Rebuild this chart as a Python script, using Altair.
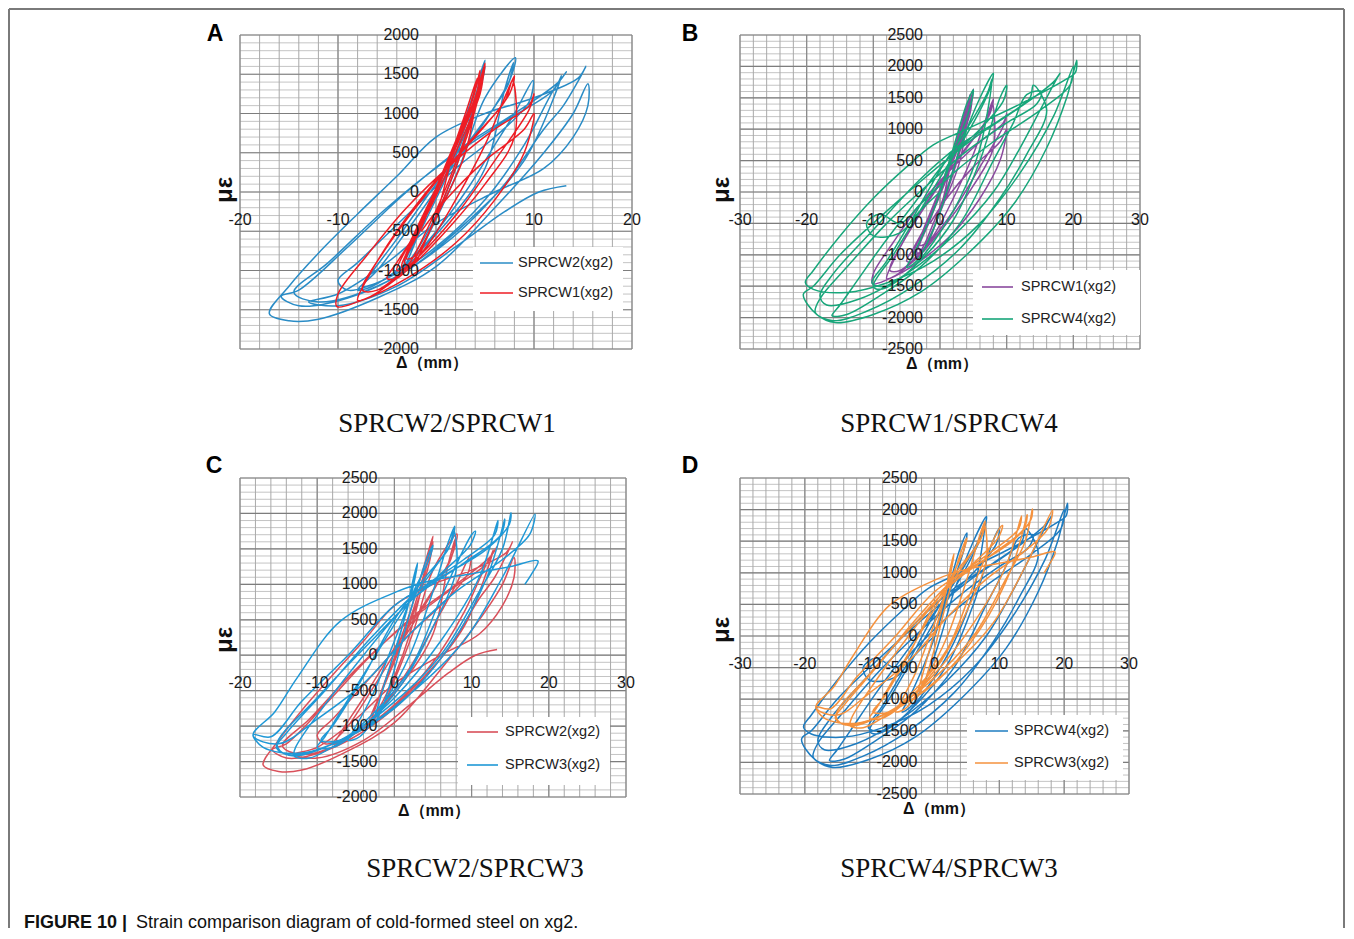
import altair as alt
import pandas as pd

# ---------------- data ----------------
# each series: sequence of (displacement mm, strain) vertices, in loading order
sprcw2 = [
    (0, 0), (2, 600), (4.5, 1500), (5.0, 1680), (4.2, 1300), (2, 500), (-1, -300), (-3, -900), (-3.5, -1000),
    (-2, -750), (0, -300), (2, 300),
    (4.6, 1450), (5.0, 1600), (4.4, 1250), (2, 450), (-1, -350), (-3.3, -950), (-2.2, -850), (0, -350), (2.5, 350),
    (5, 1200), (8.1, 1710), (7.6, 1450), (5, 900), (1, 200), (-3, -500), (-6, -1000), (-8, -1250), (-6.5, -1200),
    (-3, -900), (1, -400), (5, 300),
    (7, 1300), (7.9, 1650), (7.3, 1350), (4, 750), (0, 100), (-4, -600), (-7, -1100), (-7.5, -1200), (-5, -1100),
    (-1, -650), (3, 0), (6, 600),
    (8, 1000), (9.9, 1420), (9.5, 1150), (6, 700), (2, 300), (-3, -300), (-8, -900), (-10, -1130), (-9, -1250),
    (-5, -1100), (0, -700), (5, -100), (9, 600),
    (12, 1300), (13.3, 1530), (12.5, 1400), (8, 1000), (3, 600), (-3, 0), (-9, -700), (-14, -1250), (-15.8, -1330),
    (-14, -1450), (-9, -1350), (-3, -1000), (3, -400), (9, 400),
    (12.8, 1480), (12, 1300), (7, 900), (1, 400), (-5, -200), (-11, -900), (-14.5, -1280), (-12, -1400),
    (-6, -1200), (1, -650), (7, 100), (11, 800),
    (13, 1100), (15.3, 1600), (14.5, 1450), (10, 1200), (5, 1000), (0, 700), (-4, 200), (-8, -280), (-12, -780),
    (-15, -1200), (-17, -1550), (-15, -1640), (-12, -1620), (-6, -1350), (0, -950), (6, -200), (11, 500), (14, 1000),
    (15.5, 1380), (15.5, 1100), (14, 700), (11, 300), (6, 0), (0, -400), (-5, -900), (-10, -1300), (-13, -1400),
    (-10, -1450), (-4, -1200), (2, -700), (7, -250), (10.5, 0), (13.3, 80),
]

sprcw1 = [
    (0, 0), (1, 300), (3, 1000), (4.2, 1450), (3.5, 1100), (1, 300), (-1.5, -450), (-3, -850), (-2, -800), (0, -300),
    (2, 600), (4, 1200), (5, 1640), (4.6, 1350), (2.5, 700), (0, 0), (-2, -550), (-3.5, -950), (-3, -1000),
    (-1.5, -700), (0.5, -200), (3, 500),
    (4.5, 1550), (3.8, 1200), (1.5, 500), (-1, -250), (-3.2, -900), (-2.5, -950), (-0.5, -450), (2, 300),
    (4, 1050), (5, 1600), (4.4, 1300), (2, 600),
    (0, 50), (-2.5, -600), (-4, -1000), (-3, -950), (-1, -500), (1.5, 200), (3.5, 900),
    (4.8, 1500), (4.5, 1250), (2, 500), (-1, -300), (-4, -900), (-5, -1100), (-4, -1100), (-1, -700), (2, -100),
    (5, 600),
    (7, 1200), (8, 1480), (7.5, 1250), (4, 700), (0, 150), (-4, -500), (-7, -1100), (-8, -1380), (-7, -1350),
    (-3, -1000), (1, -500), (5, 100), (8, 700),
    (7.8, 1420), (7, 1150), (3.5, 650), (-0.5, 50), (-5, -700), (-7.5, -1250), (-6, -1250), (-2, -850), (2, -300),
    (6, 400),
    (9.5, 1050), (10, 1250), (9.5, 1100), (6, 800), (2, 400), (-3, -200), (-7, -800), (-10, -1300), (-10.1, -1460),
    (-8, -1400), (-3, -1100), (2, -650), (6, -100), (9, 500), (10, 1000), (9, 800), (5, 400), (1, -100), (-1.5, -500),
]

sprcw4 = [
    (0, 0), (2, 700), (4, 1400), (5, 1630), (4.5, 1350), (2, 600), (-1, -300), (-4, -1000), (-5, -1200),
    (-3.5, -1100), (-1, -600), (1, 0), (3, 700),
    (6, 1500), (8, 1890), (7.5, 1650), (5, 1100), (1, 400), (-3, -300), (-7, -1000), (-10, -1500), (-9, -1550),
    (-5, -1300), (-1, -800), (3, -100), (6, 700),
    (7.8, 1800), (7.2, 1600), (4, 1000), (0, 350), (-4, -400), (-8, -1100), (-10.2, -1450), (-8, -1500),
    (-3, -1100), (2, -450), (6, 500),
    (9, 1500), (10, 1700), (9.5, 1450), (6, 1000), (1, 500), (-4, -200), (-9, -900), (-13, -1500), (-15, -1800),
    (-16.2, -1970), (-14, -1950), (-9, -1650), (-3, -1200), (3, -500), (8, 500), (11, 1100),
    (13, 1550), (15.2, 1600), (14.5, 1400), (10, 1100), (4, 650), (-2, 100), (-8, -500), (-14, -1200), (-18, -1700),
    (-18.7, -1920), (-16, -2050), (-11, -1900), (-4, -1500), (3, -900), (9, -100), (13, 600), (16, 1300),
    (14, 1700), (13.5, 1500), (9, 1150), (3, 750), (-3, 200), (-10, -600), (-16, -1300), (-18, -1650),
    (-17, -1800), (-12, -1700), (-5, -1300), (2, -700), (8, 0), (12, 700), (15, 1300),
    (17.5, 1800), (18, 1890), (17, 1750), (12, 1350), (5, 850), (-2, 250), (-9, -400), (-15, -1000), (-19, -1500),
    (-20.5, -1630), (-18.5, -1950), (-15.7, -2080), (-10, -1950), (-3, -1600), (4, -1000), (11, -200), (16, 700),
    (19, 1500),
    (20.5, 2100), (20.3, 1900), (19, 1800), (12, 1400), (4, 1000), (-1, 750), (-5, 400), (-10, -100), (-15, -700),
    (-19, -1250), (-20.2, -1440), (-19, -1550), (-14, -1600), (-8, -1450), (-1, -1100), (6, -500), (12, 300),
    (17, 1200), (20, 2000),
    (19.5, 1700), (15, 1300), (8, 800), (2, 300), (-3, -200), (-6, -500), (-9, -350), (-11, -500), (-10, -700),
    (-6, -650), (-3, -300), (0, 0),
]

sprcw3 = [
    (0, 0), (1.5, 600), (2.5, 1100), (3, 1300), (2.5, 1000), (1, 400), (-1, -300), (-2.5, -850), (-3, -1000),
    (-2, -850), (0, -200), (1.5, 400),
    (4, 1300), (5, 1550), (4.5, 1350), (2.5, 900), (0, 200), (-3, -600), (-5.5, -1100), (-6, -1200), (-4.5, -1150),
    (-1.5, -700), (2, 0), (5, 900),
    (7, 1600), (7.8, 1820), (7.4, 1600), (5, 1200), (1, 600), (-3, -100), (-7, -800), (-9, -1150), (-10, -1300),
    (-8, -1300), (-4, -1000), (1, -400), (5, 400), (8, 1200),
    (7.7, 1750), (7, 1500), (4, 1100), (0, 500), (-4, -300), (-8, -1000), (-9.5, -1200), (-7, -1200), (-3, -850),
    (2, -200), (6, 800),
    (10, 1700), (10.5, 1750), (9.8, 1550), (6, 1150), (1, 650), (-4, 0), (-9, -700), (-12.8, -1300), (-13, -1420),
    (-11, -1450), (-6, -1150), (0, -600), (6, 200), (11, 1100),
    (13.4, 1900), (13, 1700), (9, 1350), (3, 900), (-3, 250), (-9, -500), (-14, -1100), (-15.3, -1300),
    (-13, -1420), (-7, -1200), (0, -750), (7, 100), (12, 1100),
    (14.3, 1920), (13.8, 1700), (9, 1300), (3, 850), (-3, 200), (-10, -600), (-15.2, -1260), (-14, -1400),
    (-8, -1250), (-1, -750), (6, 0), (11, 900), (14, 1500),
    (15.1, 2010), (14.9, 1850), (12, 1500), (6, 1100), (0, 700), (-6, 0), (-12, -650), (-16, -1150),
    (-18.3, -1120), (-17, -1300), (-12, -1380), (-5, -1100), (2, -550), (9, 200), (14, 1100),
    (18.2, 1990), (17.5, 1700), (14, 1350), (8, 900), (2, 300), (-4, -400), (-10, -900), (-15, -1250),
    (-18.3, -1130), (-15.5, -800), (-12.6, -320), (-7, 480), (0.4, 900), (4.7, 1050), (10, 1150), (15, 1250),
    (18.6, 1330), (17.8, 1150), (16.9, 1000),
]

series_data = {"SPRCW1": sprcw1, "SPRCW2": sprcw2, "SPRCW3": sprcw3, "SPRCW4": sprcw4}

xticks_a = [-20, -10, 0, 10, 20]
yticks_a = [-2000, -1500, -1000, -500, 0, 500, 1000, 1500, 2000]
xticks_b = [-30, -20, -10, 0, 10, 20, 30]
yticks_b = [-2500, -2000, -1500, -1000, -500, 0, 500, 1000, 1500, 2000, 2500]
xticks_c = [-20, -10, 0, 10, 20, 30]
yticks_c = [-2000, -1500, -1000, -500, 0, 500, 1000, 1500, 2000, 2500]

subtitles = ["SPRCW2/SPRCW1", "SPRCW1/SPRCW4", "SPRCW2/SPRCW3", "SPRCW4/SPRCW3"]
letters = ["A", "B", "C", "D"]
caption_bold = "FIGURE 10 |"
caption_rest = "Strain comparison diagram of cold-formed steel on xg2."

FONT = "Liberation Sans"
DUMMY = pd.DataFrame({"a": [0]})


def series_df(pairs):
    return pd.DataFrame({"i": list(range(len(pairs))),
                         "x": [p[0] for p in pairs],
                         "y": [p[1] for p in pairs]})


def txt(x, y, text, **kw):
    return alt.Chart(DUMMY).mark_text(**kw).encode(
        x=alt.value(x), y=alt.value(y), text=alt.value(text))


def panel(cfg):
    w, h = cfg["w"], cfg["h"]
    xs = alt.Scale(domain=cfg["xdom"], nice=False, zero=False)
    ys = alt.Scale(domain=cfg["ydom"], nice=False, zero=False)

    def X(f):
        return alt.X(f, scale=xs, axis=None)

    def Y(f):
        return alt.Y(f, scale=ys, axis=None)

    x0, x1 = cfg["xdom"]
    y0, y1 = cfg["ydom"]
    xminor = list(range(x0, x1 + 1, 2))
    yminor = list(range(y0, y1 + 1, 100))
    xmajor = [v for v in xminor if v % 10 == 0]
    ymajor = [v for v in yminor if v % 500 == 0]

    layers = [
        alt.Chart(pd.DataFrame({"v": yminor})).mark_rule(color="#c4c4c4", strokeWidth=1).encode(y=Y("v:Q")),
        alt.Chart(pd.DataFrame({"v": xminor})).mark_rule(color="#a9a9a9", strokeWidth=1).encode(x=X("v:Q")),
        alt.Chart(pd.DataFrame({"v": ymajor})).mark_rule(color="#7d7d7d", strokeWidth=1.2).encode(y=Y("v:Q")),
        alt.Chart(pd.DataFrame({"v": xmajor})).mark_rule(color="#8a8a8a", strokeWidth=1.2).encode(x=X("v:Q")),
    ]
    for name, color in cfg["series"]:
        layers.append(
            alt.Chart(series_df(series_data[name])).mark_line(
                color=color, strokeWidth=1.5, interpolate="catmull-rom", clip=True
            ).encode(x=X("x:Q"), y=Y("y:Q"), order=alt.Order("i:Q"))
        )
    # legend (drawn like the Excel one, inside the plot)
    lg = cfg["legend"]
    layers.append(alt.Chart(DUMMY).mark_rect(fill="white").encode(
        x=alt.value(lg["box"][0]), x2=alt.value(lg["box"][1]),
        y=alt.value(lg["box"][2]), y2=alt.value(lg["box"][3])))
    for k, (name, color) in enumerate(cfg["series_legend"]):
        yy = lg["rows"][k]
        layers.append(alt.Chart(DUMMY).mark_rule(color=color, strokeWidth=1.6).encode(
            x=alt.value(lg["line"][0]), x2=alt.value(lg["line"][1]), y=alt.value(yy)))
        layers.append(txt(lg["text"], yy, name + "(xg2)", align="left", baseline="middle",
                          font=FONT, fontSize=14.5, color="#222222"))
    # tick labels placed where Excel puts them (crossing at the origin)
    xt = cfg["xticks"]
    layers.append(alt.Chart(pd.DataFrame({"v": xt, "z": [0] * len(xt), "t": [str(v) for v in xt]})).mark_text(
        dy=28, font=FONT, fontSize=16, color="#1a1a1a", baseline="middle").encode(
        x=X("v:Q"), y=Y("z:Q"), text="t:N"))
    yt = cfg["yticks"]
    layers.append(alt.Chart(pd.DataFrame({"v": yt, "z": [0] * len(yt), "t": [str(v) for v in yt]})).mark_text(
        dx=-17, align="right", baseline="middle", font=FONT, fontSize=16, color="#1a1a1a").encode(
        x=X("z:Q"), y=Y("v:Q"), text="t:N"))
    # axis titles, panel letter, subtitle
    layers.append(txt(cfg["mu"][0], cfg["mu"][1], "με", angle=270, font=FONT, fontSize=24,
                      fontWeight="bold", align="center", baseline="middle", color="#111111"))
    layers.append(txt(cfg["delta"][0], cfg["delta"][1], "Δ（mm）", font=FONT, fontSize=16,
                      fontWeight="bold", align="center", baseline="middle", color="#111111"))
    layers.append(txt(cfg["letter"][0], cfg["letter"][1], cfg["letter_t"], font=FONT, fontSize=23,
                      fontWeight="bold", align="center", baseline="middle", color="#000000"))
    layers.append(txt(cfg["sub"][0], cfg["sub"][1], cfg["sub_t"], font="Liberation Serif", fontSize=27,
                      align="center", baseline="middle", color="#111111"))
    layers.extend(cfg.get("extra", []))
    return alt.layer(*layers).properties(width=w, height=h)


FRAME = "#7a7a7a"
frame_layers = [
    alt.Chart(DUMMY).mark_rule(color=FRAME, strokeWidth=2).encode(
        x=alt.value(-231), x2=alt.value(1104), y=alt.value(-26)),
    alt.Chart(DUMMY).mark_rule(color=FRAME, strokeWidth=2).encode(
        x=alt.value(-231), y=alt.value(-26), y2=alt.value(893)),
    alt.Chart(DUMMY).mark_rule(color=FRAME, strokeWidth=2).encode(
        x=alt.value(1104), y=alt.value(-26), y2=alt.value(893)),
]
caption_layers = [
    txt(-216, 445, caption_bold, align="left", baseline="middle", font=FONT, fontSize=18,
        fontWeight="bold", color="#111111"),
    txt(-104, 445, caption_rest, align="left", baseline="middle", font=FONT, fontSize=18,
        color="#111111"),
]

pA = panel(dict(
    w=392, h=314, xdom=[-20, 20], ydom=[-2000, 2000], xticks=xticks_a, yticks=yticks_a,
    series=[("SPRCW2", "#2a8cc6"), ("SPRCW1", "#ee1d25")],
    series_legend=[("SPRCW2", "#2a8cc6"), ("SPRCW1", "#ee1d25")],
    legend=dict(box=(233, 383, 212, 276), line=(240, 273), rows=[228, 258], text=278),
    mu=(-15, 155), delta=(192, 328), letter=(-25, -1), letter_t=letters[0],
    sub=(207, 389), sub_t=subtitles[0], extra=frame_layers,
))
pB = panel(dict(
    w=400, h=314, xdom=[-30, 30], ydom=[-2500, 2500], xticks=xticks_b, yticks=yticks_b,
    series=[("SPRCW1", "#8a4a9e"), ("SPRCW4", "#17a67a")],
    series_legend=[("SPRCW1", "#8a4a9e"), ("SPRCW4", "#17a67a")],
    legend=dict(box=(233, 400, 235, 300), line=(242, 273), rows=[252, 284], text=281),
    mu=(-18, 155), delta=(202, 329), letter=(-50, -1), letter_t=letters[1],
    sub=(209, 389), sub_t=subtitles[1],
))
pC = panel(dict(
    w=386, h=319, xdom=[-20, 30], ydom=[-2000, 2500], xticks=xticks_c, yticks=yticks_c,
    series=[("SPRCW2", "#d9505a"), ("SPRCW3", "#1f98d6")],
    series_legend=[("SPRCW2", "#d9505a"), ("SPRCW3", "#1f98d6")],
    legend=dict(box=(218, 370, 239, 307), line=(227, 258), rows=[254, 287], text=265),
    mu=(-15, 162), delta=(194, 333), letter=(-26, -12), letter_t=letters[2],
    sub=(235, 391), sub_t=subtitles[2], extra=caption_layers,
))
pD = panel(dict(
    w=389, h=316, xdom=[-30, 30], ydom=[-2500, 2500], xticks=xticks_b, yticks=yticks_b,
    series=[("SPRCW4", "#1e7cc0"), ("SPRCW3", "#f5923e")],
    series_legend=[("SPRCW4", "#1e7cc0"), ("SPRCW3", "#f5923e")],
    legend=dict(box=(227, 383, 237, 302), line=(235, 268), rows=[253, 285], text=274),
    mu=(-18, 152), delta=(199, 331), letter=(-50, -12), letter_t=letters[3],
    sub=(209, 391), sub_t=subtitles[3],
))

chart = alt.concat(
    pA, pB, pC, pD, columns=2, spacing={"row": 129, "column": 108}, bounds="flush", padding=0
).configure_view(stroke=None).properties(background="white")

chart.save("out.html", embed_options={"renderer": "svg", "actions": False})
